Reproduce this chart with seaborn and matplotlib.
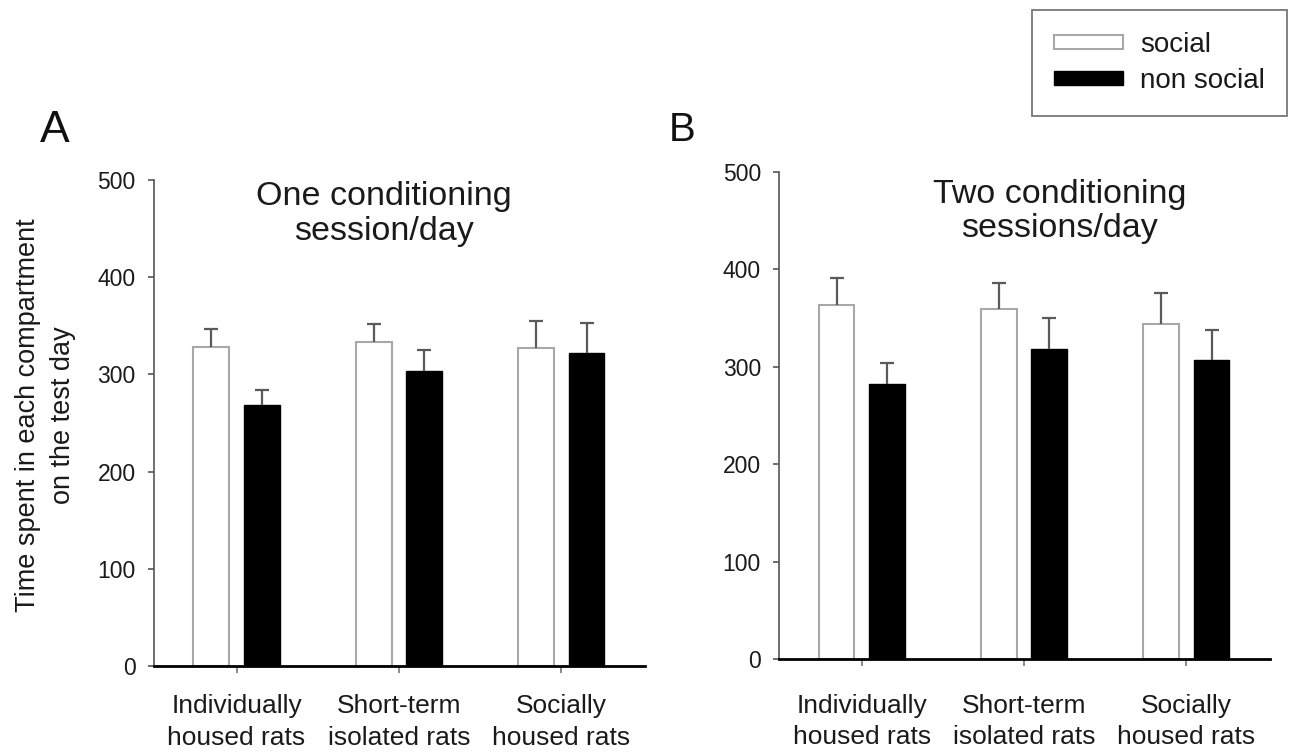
import matplotlib
matplotlib.use("Agg")
import matplotlib.pyplot as plt
from matplotlib.patches import Patch
import seaborn as sns
import pandas as pd

groups = ["Individually\nhoused rats", "Short-term\nisolated rats", "Socially\nhoused rats"]
conditions = ["social", "non social"]

# Panel A: one conditioning session/day
a_social = [328, 333, 327]
a_social_err = [19, 19, 28]
a_nonsocial = [269, 303, 322]
a_nonsocial_err = [15, 22, 31]

# Panel B: two conditioning sessions/day
b_social = [363, 359, 344]
b_social_err = [28, 27, 32]
b_nonsocial = [282, 318, 307]
b_nonsocial_err = [22, 32, 31]

yticks = [0, 100, 200, 300, 400, 500]

sns.set_theme(style="ticks")
plt.rcParams["font.family"] = ["Liberation Sans", "DejaVu Sans"]

W, H = 1291, 754
fig = plt.figure(figsize=(W / 100, H / 100), dpi=100)


def px_axes(left, top, right, bottom):
    return fig.add_axes([left / W, 1 - bottom / H, (right - left) / W, (bottom - top) / H])


axA = px_axes(153.7, 180, 645, 666)
axB = px_axes(779, 171.7, 1270, 659)

EDGE = "#a8a8a8"
ERR = "#5a5a5a"
TXT = "#1a1a1a"


def draw(ax, soc, soc_err, non, non_err, title, tx, ty, xpad):
    df = pd.DataFrame({
        "group": groups * 2,
        "condition": [conditions[0]] * 3 + [conditions[1]] * 3,
        "value": soc + non,
    })
    errs = soc_err + non_err
    sns.barplot(data=df, x="group", y="value", hue="condition",
                order=groups, hue_order=conditions,
                palette={"social": "white", "non social": "black"},
                width=0.62, gap=0.29, errorbar=None, legend=False, ax=ax,
                linewidth=1.5)
    for ci, cont in enumerate(ax.containers):
        for bar in cont:
            if ci == 0:
                bar.set_edgecolor(EDGE)
                bar.set_linewidth(1.5)
            else:
                bar.set_edgecolor("black")
                bar.set_linewidth(1.0)
    capw = 0.043
    for ci, cont in enumerate(ax.containers):
        for gi, bar in enumerate(cont):
            x = bar.get_x() + bar.get_width() / 2
            top = bar.get_height()
            e = errs[ci * 3 + gi]
            ax.vlines(x, top, top + e, color=ERR, lw=1.6, zorder=3)
            ax.hlines(top + e, x - capw, x + capw, color=ERR, lw=1.6, zorder=3)

    ax.set_ylim(0, 500)
    ax.set_xlim(-0.51, 2.515)
    ax.set_yticks(yticks)
    ax.set_yticklabels([str(t) for t in yticks], fontsize=16.5, color=TXT)
    ax.set_xlabel("")
    ax.set_ylabel("")
    ax.tick_params(axis="y", length=4, width=1.2, color="#555555", pad=9)
    ax.tick_params(axis="x", length=5, width=1.2, color="#777777", pad=xpad,
                   labelsize=19, labelcolor=TXT)
    for lab in ax.get_xticklabels():
        lab.set_linespacing(1.4)
    sns.despine(ax=ax)
    ax.spines["left"].set_color("#555555")
    ax.spines["left"].set_linewidth(1.2)
    ax.spines["bottom"].set_color("black")
    ax.spines["bottom"].set_linewidth(2.0)
    ax.text(tx, ty, title, transform=ax.transAxes, ha="center", va="top",
            fontsize=24.5, color=TXT, linespacing=1.15)


draw(axA, a_social, a_social_err, a_nonsocial, a_nonsocial_err,
     "One conditioning\nsession/day", 0.468, 0.997, 15.5)
draw(axB, b_social, b_social_err, b_nonsocial, b_nonsocial_err,
     "Two conditioning\nsessions/day", 0.572, 0.986, 20.0)

axA.set_ylabel("Time spent in each compartment\non the test day", fontsize=19.5,
               color=TXT, linespacing=1.45)
axA.yaxis.set_label_coords(-0.159, 0.516)

fig.text(40 / W, 1 - 131 / H, "A", fontsize=32, ha="left", va="center", color="#111111")
fig.text(669 / W, 1 - 130 / H, "B", fontsize=29, ha="left", va="center", color="#111111")

handles = [Patch(facecolor="white", edgecolor=EDGE, linewidth=1.5, label="social"),
           Patch(facecolor="black", edgecolor="black", label="non social")]
leg = fig.legend(handles=handles, loc="upper right",
                 bbox_to_anchor=(1287 / W, 1 - 10 / H), borderaxespad=0,
                 fontsize=20, frameon=True, fancybox=False, framealpha=1,
                 handlelength=2.5, handleheight=0.4, handletextpad=0.6,
                 borderpad=0.8, labelspacing=0.35)
leg.get_frame().set_edgecolor("#777777")
leg.get_frame().set_linewidth(1.3)
for t in leg.get_texts():
    t.set_color(TXT)

fig.savefig("out.png", dpi=100)
